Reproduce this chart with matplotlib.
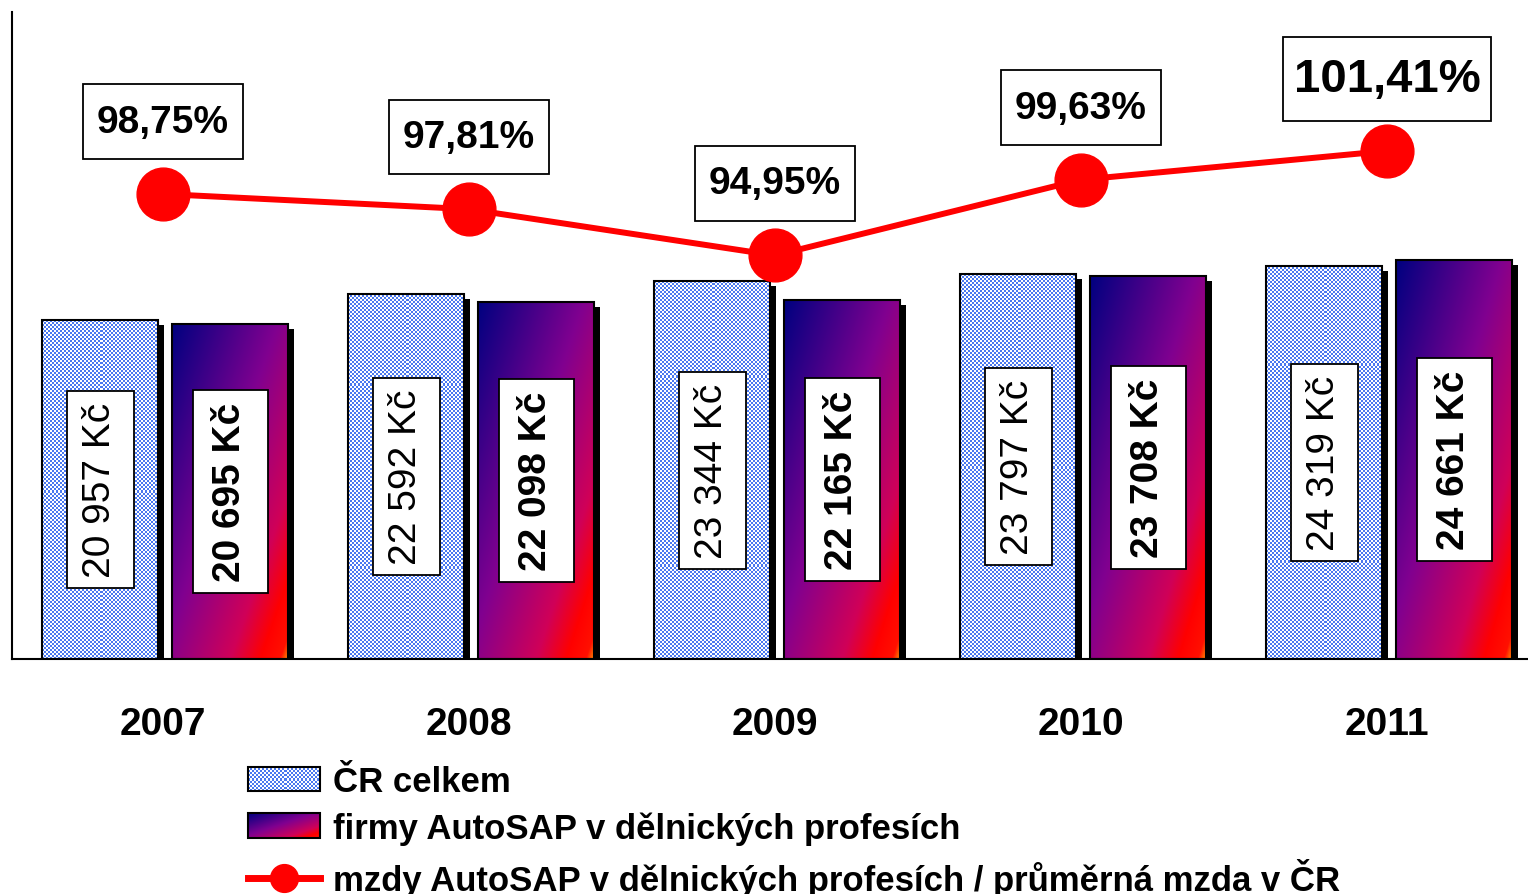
import numpy as np
import matplotlib
matplotlib.use("Agg")
import matplotlib.pyplot as plt
from matplotlib.colors import LinearSegmentedColormap, ListedColormap
from matplotlib.patches import Rectangle
from matplotlib.path import Path
from matplotlib.lines import Line2D
from matplotlib.legend_handler import HandlerBase
from matplotlib.image import BboxImage
from matplotlib.transforms import Bbox, TransformedBbox, offset_copy

# data
years = ["2007", "2008", "2009", "2010", "2011"]
cr_total = [20957, 22592, 23344, 23797, 24319]      # ČR celkem, Kč
autosap = [20695, 22098, 22165, 23708, 24661]       # firmy AutoSAP, Kč
ratio = [98.75, 97.81, 94.95, 99.63, 101.41]        # %
legend_labels = ["ČR celkem",
                 "firmy AutoSAP v dělnických profesích",
                 "mzdy AutoSAP v dělnických profesích / průměrná mzda v ČR"]

plt.rcParams["font.family"] = ["Liberation Sans", "DejaVu Sans"]

W, H = 1528, 895
fig = plt.figure(figsize=(W / 100, H / 100), dpi=100)
ax = fig.add_axes([12 / W, 235 / H, 1516 / W, 647 / H])
xlim = (-0.4935, 4.461)
ylim = (0, 40000)

checker_cmap = ListedColormap(["#4a78f0", "white"])
grad_cmap = LinearSegmentedColormap.from_list(
    "navyred", [(0, "#000080"), (0.45, "#800090"), (0.75, "#d00058"),
                (0.88, "#ff0000"), (0.965, "#ff1000"), (1.0, "#ff9000")])

px_x = 1516 / (xlim[1] - xlim[0])
px_y = 647 / (ylim[1] - ylim[0])


class PadBox:
    """square box with separate padding along / across the text"""
    def __init__(self, padx, pady):
        self.padx = padx
        self.pady = pady

    def __call__(self, x0, y0, width, height, mutation_size):
        px = self.padx * mutation_size
        py = self.pady * mutation_size
        x0, y0 = x0 - px, y0 - py
        x1, y1 = x0 + width + 2 * px, y0 + height + 2 * py
        return Path([(x0, y0), (x1, y0), (x1, y1), (x0, y1), (x0, y0)],
                    closed=True)


def checker(nx, ny):
    return np.indices((ny, nx)).sum(0) % 2

def gradient(n=200):
    u = np.linspace(0, 1, n)
    return (u[None, :] + u[:, None]) / 2

shadow_tr = offset_copy(ax.transData, fig=fig, x=6, y=-5, units="dots")

def draw_bar(x0, w, h, img, cmap, interp):
    ax.add_patch(Rectangle((x0, 0), w, h, facecolor="black", edgecolor="none",
                           transform=shadow_tr, zorder=1))
    ax.imshow(img, cmap=cmap, extent=(x0, x0 + w, 0, h), aspect="auto",
              interpolation=interp, origin="upper", zorder=2)
    ax.add_patch(Rectangle((x0, 0), w, h, facecolor="none", edgecolor="black",
                           lw=1.5, zorder=3))

x = np.arange(len(years))
bw = 0.38
off1, off2 = -0.205, 0.22

for i in range(len(years)):
    h1 = cr_total[i]
    nx = int(bw * px_x / 2)
    ny = int(h1 * px_y / 2)
    draw_bar(x[i] + off1 - bw / 2, bw, h1, checker(nx, ny), checker_cmap, "nearest")
    h2 = autosap[i]
    draw_bar(x[i] + off2 - bw / 2, bw, h2, gradient(), grad_cmap, "bilinear")

    ax.text(x[i] + off1, h1 / 2, "{:,} Kč".format(h1).replace(",", " "),
            rotation=90, ha="center", va="center", fontsize=28, zorder=5,
            bbox=dict(boxstyle=PadBox(0.28, 0.4), fc="white", ec="black", lw=1.3))
    ax.text(x[i] + off2, h2 / 2, "{:,} Kč".format(h2).replace(",", " "),
            rotation=90, ha="center", va="center", fontsize=28, fontweight="bold",
            zorder=5,
            bbox=dict(boxstyle=PadBox(0.3, 0.5), fc="white", ec="black", lw=1.3))

ax.set_xlim(*xlim)
ax.set_ylim(*ylim)
ax.set_xticks(x, years, fontsize=28, fontweight="bold")
ax.tick_params(axis="x", length=0, pad=34)
ax.set_yticks([])
for s in ("top", "right"):
    ax.spines[s].set_visible(False)
for s in ("left", "bottom"):
    ax.spines[s].set_linewidth(1.5)

# ratio line on a second scale
ax2 = ax.twinx()
ax2.set_ylim(70, 110)
ax2.plot(x, ratio, color="red", lw=4.3, marker="o", ms=38, zorder=4)
ax2.set_yticks([])
for s in ax2.spines.values():
    s.set_visible(False)
pct_sizes = [28, 28, 28, 28, 34]
pct_pads = [(0.35, 0.5)] * 4 + [(0.22, 0.42)]
for i, r in enumerate(ratio):
    ax2.annotate("{:.2f}%".format(r).replace(".", ","), (x[i], r),
                 xytext=(0, 52), textcoords="offset points", ha="center",
                 va="center", fontsize=pct_sizes[i], fontweight="bold",
                 bbox=dict(boxstyle=PadBox(*pct_pads[i]), fc="white",
                           ec="black", lw=1.3))
ax2.set_xlim(*xlim)


class ImageHandler(HandlerBase):
    def __init__(self, data, cmap, interp):
        super().__init__()
        self.data = data
        self.cmap = cmap
        self.interp = interp

    def create_artists(self, legend, orig_handle, xdescent, ydescent,
                       width, height, fontsize, trans):
        bb = TransformedBbox(Bbox.from_bounds(-xdescent, -ydescent, width, height), trans)
        img = BboxImage(bb, cmap=self.cmap, interpolation=self.interp)
        img.set_data(self.data)
        edge = Rectangle((-xdescent, -ydescent), width, height, facecolor="none",
                         edgecolor="black", lw=1.5, transform=trans)
        return [img, edge]


hd1 = Rectangle((0, 0), 1, 1)
hd2 = Rectangle((0, 0), 1, 1)
hd3 = Line2D([], [], color="red", lw=5, marker="o", ms=20)
fig.legend(handles=[hd1, hd2, hd3], labels=legend_labels,
           handler_map={hd1: ImageHandler(checker(36, 12), checker_cmap, "nearest"),
                        hd2: ImageHandler(gradient(), grad_cmap, "bilinear")},
           loc="upper left", bbox_to_anchor=(248 / W, 0.144), frameon=False,
           borderpad=0, borderaxespad=0, prop=dict(size=25, weight="bold"),
           handlelength=2.08, handleheight=0.72, handletextpad=0.38,
           labelspacing=0.38)

fig.savefig("out.png", dpi=100)
